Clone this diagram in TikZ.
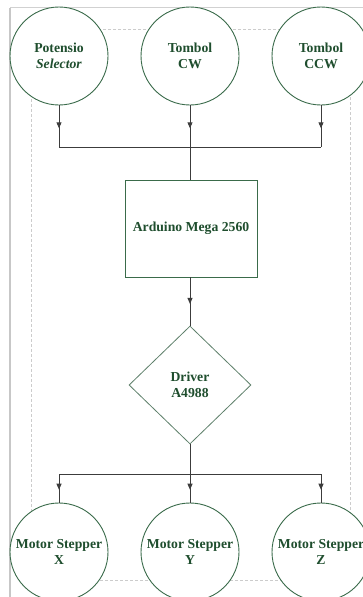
\documentclass[tikz,border=0pt]{standalone}
\usepackage{fontspec}
\setmainfont{Liberation Serif}
\usetikzlibrary{shapes.geometric,arrows.meta,decorations.markings}
\definecolor{txtgreen}{HTML}{1F4E2E}
\definecolor{edgegreen}{HTML}{3A6B4A}
\definecolor{diagreen}{HTML}{5E806B}
\definecolor{conn}{HTML}{3C3C3C}
\tikzset{
  lbl/.style={text=txtgreen, font=\bfseries\fontsize{13.7}{16}\selectfont, align=center},
  circ/.style={lbl, circle, draw=edgegreen, line width=0.9pt, minimum size=98pt, inner sep=0pt, fill=white},
  boxnode/.style={lbl, rectangle, draw=edgegreen, line width=0.9pt, minimum width=132pt, minimum height=97pt, inner sep=0pt, fill=white},
  dia/.style={lbl, diamond, draw=diagreen, line width=0.8pt, minimum width=122pt, minimum height=118pt, inner sep=0pt, fill=white},
  conline/.style={draw=conn, line width=0.9pt},
  midarrow/.style={conline, postaction={decorate}, decoration={markings, mark=at position 0.55 with {\arrow{Triangle[length=6pt,width=5pt]}}}}
}
\begin{document}
\begin{tikzpicture}[x=1pt,y=-1pt]
\useasboundingbox (0,0) rectangle (363,597);
\clip (0,0) rectangle (363,597);
\fill[white] (0,0) rectangle (363,597);
% page frame
\draw[draw=black!18, line width=0.8pt] (10,7.5) -- (363,7.5);
\draw[draw=black!22, line width=2pt] (10,7.5) -- (10,597);
\draw[draw=black!20, line width=0.5pt, dash pattern=on 3pt off 2pt] (31,29) rectangle (350,580);
% nodes
\node[circ] (p) at (59,56) {Potensio\\\textit{Selector}};
\node[circ] (cw) at (190,56) {Tombol\\CW};
\node[circ] (ccw) at (321,56) {Tombol\\CCW};
\node[boxnode] (ard) at (191,228.5) {Arduino Mega 2560};
\node[dia] (drv) at (190,385) {Driver\\A4988};
\node[circ] (mx) at (59,552) {Motor Stepper\\X};
\node[circ] (my) at (190,552) {Motor Stepper\\Y};
\node[circ] (mz) at (321,552) {Motor Stepper\\Z};
\coordinate (j1) at (190,147);
\coordinate (j2) at (190,474);
% connectors
\draw[midarrow] (p.south) -- (p.south |- j1);
\draw[midarrow] (cw.south) -- (j1);
\draw[midarrow] (ccw.south) -- (ccw.south |- j1);
\draw[conline] (p.south |- j1) -- (ccw.south |- j1);
\draw[conline] (j1) -- (j1 |- ard.north);
\draw[midarrow] (j1 |- ard.south) -- (drv.north);
\draw[conline] (drv.south) -- (j2);
\draw[conline] (mx.north |- j2) -- (mz.north |- j2);
\draw[midarrow] (mx.north |- j2) -- (mx.north);
\draw[midarrow] (j2) -- (my.north);
\draw[midarrow] (mz.north |- j2) -- (mz.north);
\end{tikzpicture}
\end{document}
